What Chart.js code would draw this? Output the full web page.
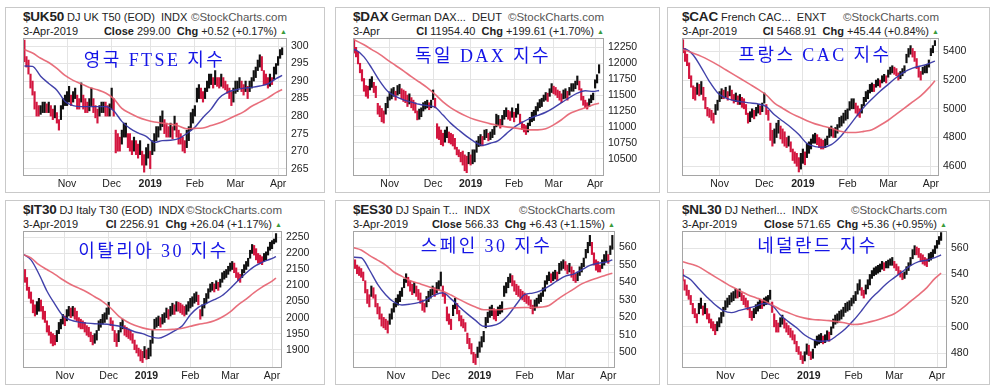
<!DOCTYPE html>
<html>
<head>
<meta charset="utf-8">
<script src="https://cdn.jsdelivr.net/npm/chart.js@4.4.1/dist/chart.umd.min.js"></script>
<style>
  body { margin: 0; width: 995px; height: 392px; position: relative; overflow: hidden; background: #fff;
         font-family: "Liberation Sans", Arial, sans-serif; color: #222; }
  .box { position: absolute; border: 1px solid #c9c9c9; box-sizing: border-box; }
  .head { position: absolute; white-space: nowrap; }
  .l1 { display: flex; justify-content: space-between; align-items: baseline; height: 17px; line-height: 17px; font-size: 11px; }
  .l2 { display: flex; justify-content: space-between; height: 13px; line-height: 13px; font-size: 11px; }
  .sym { font-size: 13.5px; font-weight: bold; letter-spacing: -0.2px; }
  .sc { color: #555; font-size: 11.5px; }
  .tri { color: #3a9a3a; font-size: 7px; vertical-align: 1px; }
  .kt { position: absolute; transform: translate(-50%, -50%); white-space: nowrap; color: #1515e6;
        font: 18px "Liberation Serif", "Noto Sans CJK KR", serif; letter-spacing: 2.4px; }
  canvas { position: absolute; }
</style>
</head>
<body>
<script>
// trading-day index: 0 = 3-Oct-2018 ... 127 = 3-Apr-2019
const monthDays = [21, 43, 62, 84, 104, 125];
const monthLabels = ['Nov', 'Dec', '2019', 'Feb', 'Mar', 'Apr'];
const maDays = [0,4,8,12,16,20,24,28,32,36,40,44,48,52,56,60,64,68,72,76,80,84,88,92,96,100,104,108,112,116,120,124,127];

// $UK50
const ukHigh = [301.7,297,296,292,290,287,284,283,283,284, 284,283.5,284,283,282,283,281,279,283,285,
  286,287,288.5,286,287,288,286,285,289.5,286, 285,284,285,288,285,283,282,283,284,284,
  284,283,283.5,288,285,276,275,274,276,278, 278,275,275,273,274,273,272,273,270,269,
  271,272,270,273,275,277,277,280,281.5,279, 278,277,278,277,280,278,276,275,274,273,
  276,277,281,282,283,288,289,288,287,288, 290,292,292,291,293,291,291,292,291,290,
  289,288,287,288,290,290,291,290,289,290, 288.5,290,291,293,294,296,297.5,297,293,292,
  291,292,291,294,295,297,299,299.5];
const ukLow = [295.5,294,292,288,286,282,280,280,280.5,281, 281,281,281,280,279,279.5,278,276,279,282,
  283,283,284,283,284,285,282,282,284,282, 281,281,281.5,283,281,279.5,278,280,281,281,
  280,280,280,282,280,269.5,270,270,272,274, 274,271,270,269,270,269,268,269,266,264,
  266,268,265,269,270,273,274,276,277,275, 274,274,274,273.5,276,274,272,272,270,269.5,
  271,273,276,278,280,284,285,285,284,285, 287,288,289,288,289,288.5,288,288.5,288,287.5,
  286.5,285,283,284,286.5,287,288,287,286,287, 285,287,288,290,291,293,294,293,289,289,
  288,288.5,289,290.5,292,294.5,296.5,297.5];
const ukFast = [294.3,294.2,291.4,289.3,287.4,284.2,283,282.7,282.7,282.7,282.7,281.5,278.5,276.5,275.2,274.2,
  272.5,273,273.1,273.6,275,276.8,279.6,282,285.2,286.8,287.5,288,288.2,288.6,289.2,290.7,291.6];
const ukSlow = [299,298,296.5,295.3,293.6,291.6,290.2,289.2,288.2,287.5,286.6,285,282.2,280.8,279.7,278.9,
  278.3,278,277.7,277.2,276.4,276.5,276.6,277.3,278,279,280.1,281.2,282.8,284,285.2,286.7,287.6];
const ukTicks = [265, 270, 275, 280, 285, 290, 295, 300];

// $DAX (starts at day 3)
const daxHigh = [12370,12250,12180,12000,11900,11760,11650,11640,11750,11790,
  11700,11640,11370,11330,11290,11250,11370,11470,11550,11600,
  11620,11560,11650,11670,11600,11580,11560,11500,11520,11460,
  11420,11380,11250,11280,11300,11380,11400,11420,11380,11420,
  11580,11450,11050,11000,10950,10900,10950,11000,10920,10900,
  10880,10820,10680,10640,10600,10620,10560,10540,10600,10560,
  10640,10640,10780,10850,10880,10850,10950,10960,10900,10920,
  10960,11010,11200,11180,11120,11180,11260,11300,11260,11240,
  11300,11230,11290,11360,11200,11080,11040,11020,11060,11150,
  11230,11260,11320,11380,11430,11450,11500,11540,11530,11600,
  11680,11640,11620,11580,11560,11520,11580,11600,11560,11620,
  11680,11680,11720,11800,11720,11600,11480,11420,11380,11440,
  11500,11530,11740,11820,11977];
const daxLow = [12160,12100,11990,11850,11720,11560,11480,11450,11580,11620,
  11540,11460,11200,11160,11080,11060,11200,11300,11420,11440,
  11480,11420,11500,11520,11440,11400,11380,11320,11360,11300,
  11260,11220,11110,11120,11160,11250,11280,11300,11270,11300,
  11430,11300,10820,10800,10720,10700,10760,10830,10750,10730,
  10700,10650,10560,10530,10450,10400,10310,10280,10420,10400,
  10420,10450,10600,10690,10700,10700,10800,10830,10780,10800,
  10830,10880,11000,11020,10980,11030,11120,11160,11120,11100,
  11150,11080,11150,11200,11050,10960,10920,10880,10920,11020,
  11080,11100,11180,11250,11300,11320,11400,11420,11400,11480,
  11540,11520,11500,11460,11420,11380,11440,11450,11420,11500,
  11560,11560,11600,11660,11580,11420,11340,11300,11280,11320,
  11380,11425,11610,11690,11845];
const daxFast = [12230,12205,12100,11920,11720,11560,11480,11425,11390,11355,11335,11310,11185,11055,10950,10850,
  10765,10710,10743,10785,10890,10995,11070,11135,11180,11230,11300,11380,11460,11530,11568,11555,11572];
const daxSlow = [12400,12355,12290,12215,12140,12050,11965,11880,11790,11705,11617,11510,11393,11300,11227,11165,
  11116,11080,11047,11022,11000,10985,10966,10953,10953,10970,11032,11112,11206,11257,11300,11348,11373];
const daxTicks = [10500, 10750, 11000, 11250, 11500, 11750, 12000, 12250];

// $CAC (starts at day 3)
const cacHigh = [5481,5420,5380,5320,5230,5160,5150,5180,5170,5190,
  5150,5080,5010,5000,4990,4970,5030,5060,5120,5140,
  5130,5150,5120,5160,5130,5100,5110,5090,5100,5080,
  5070,5030,4970,4980,5000,4990,5010,5030,5020,5040,
  5110,5030,4990,4900,4850,4860,4900,4920,4880,4860,
  4840,4800,4810,4770,4720,4700,4690,4660,4690,4720,
  4700,4760,4770,4790,4820,4830,4820,4800,4790,4780,
  4790,4810,4870,4880,4860,4870,4890,4940,4950,4970,
  4990,5000,5050,5070,5070,5040,5020,5000,5030,5080,
  5120,5130,5170,5180,5170,5200,5210,5200,5230,5240,
  5230,5270,5290,5300,5290,5280,5250,5260,5280,5300,
  5380,5420,5440,5420,5400,5350,5290,5260,5290,5300,
  5310,5340,5420,5440,5475];
const cacLow = [5390,5330,5300,5210,5150,5070,5060,5100,5090,5100,
  5060,5000,4950,4940,4920,4900,4960,4990,5050,5070,
  5070,5080,5060,5090,5060,5040,5050,5030,5030,5010,
  5000,4960,4900,4910,4940,4930,4950,4970,4960,4980,
  5040,4960,4920,4780,4740,4760,4800,4830,4790,4760,
  4740,4730,4740,4700,4640,4620,4600,4560,4580,4620,
  4610,4660,4690,4720,4760,4760,4750,4730,4720,4720,
  4730,4750,4800,4810,4800,4800,4830,4870,4880,4900,
  4920,4930,4990,5000,5000,4970,4950,4940,4970,5020,
  5050,5070,5110,5120,5120,5150,5160,5150,5180,5190,
  5180,5220,5240,5250,5240,5230,5200,5210,5230,5250,
  5320,5360,5380,5360,5330,5280,5220,5200,5240,5250,
  5250,5290,5370,5390,5440];
const cacFast = [5420,5416,5375,5287,5190,5112,5076,5058,5048,5041,5034,5015,4958,4915,4872,4821,
  4758,4737,4733,4750,4798,4866,4940,5010,5068,5122,5170,5218,5257,5283,5298,5315,5332];
const cacSlow = [5420,5408,5387,5365,5337,5306,5272,5238,5204,5170,5135,5096,5040,5004,4970,4943,
  4917,4895,4879,4865,4846,4835,4835,4843,4854,4885,4920,4963,5005,5048,5090,5146,5195];
const cacTicks = [4600, 4800, 5000, 5200, 5400];

// $IT30
const itHigh = [2175,2150,2125,2095,2080,2055,2040,2050,2060,2055, 2035,2020,1990,1975,1955,1950,1945,1960,1985,1995,
  2010,2005,2025,2035,2030,2035,2030,2020,2000,1995, 1990,1985,1975,1970,1955,1945,1950,1960,1990,1995,
  2010,2015,2030,2048,2000,1990,1960,1950,1960,1985, 1995,1975,1970,1965,1960,1950,1930,1915,1905,1900,
  1895,1910,1900,1905,1930,1960,1995,2000,2005,2000, 2010,2015,2030,2025,2035,2045,2040,2050,2048,2045,
  2040,2035,2040,2050,2060,2065,2075,2080,2070,2025, 2040,2060,2075,2090,2105,2110,2105,2115,2110,2120,
  2140,2145,2150,2160,2170,2175,2170,2155,2140,2135, 2150,2165,2175,2185,2210,2228,2225,2215,2200,2195,
  2190,2200,2205,2220,2235,2240,2245,2262];
const itLow = [2135,2110,2085,2060,2045,2015,2005,2010,2020,2020, 1995,1985,1955,1945,1920,1912,1915,1925,1950,1965,
  1980,1975,1990,2005,2000,2005,1995,1990,1970,1965, 1965,1955,1945,1940,1925,1915,1920,1930,1960,1970,
  1980,1985,1995,2010,1975,1960,1925,1910,1925,1955, 1965,1945,1940,1935,1930,1920,1900,1890,1880,1865,
  1860,1875,1870,1872,1880,1920,1965,1970,1975,1970, 1980,1985,2000,1995,2005,2010,2010,2020,2020,2015,
  2010,2005,2010,2020,2030,2035,2045,2050,2040,1995, 2005,2030,2045,2060,2080,2085,2080,2090,2085,2095,
  2110,2120,2125,2135,2145,2150,2140,2125,2115,2110, 2125,2140,2150,2160,2185,2200,2195,2180,2170,2170,
  2165,2175,2180,2195,2210,2215,2230,2235];
const itFast = [2198,2180,2136,2083,2042,2006,1992,1986,1983,1981,1980,1978,1974,1966,1956,1950,
  1941,1936,1945,1959,1975,2009,2032,2044,2056,2069,2091,2116,2139,2159,2172,2182,2190];
const itSlow = [2197,2186,2165,2150,2135,2118,2103,2092,2080,2065,2050,2030,2005,1988,1976,1968,
  1963,1962,1962,1964,1967,1973,1979,1983,1990,2002,2018,2040,2058,2078,2095,2110,2123];
const itTicks = [1900, 1950, 2000, 2050, 2100, 2150, 2200, 2250];

// $ES30
const esHigh = [555,553,550,549,548,546,541,536,533,538, 537,533,528,526,522,520,519,518,522,525,
  528,531,533,535,537,542,545,543,541,539, 540,538,536,534,530,528,532,535,536,538,
  537,540,541,546,538,534,526,522,519,527, 531,528,524,521,519,517,511,508,505,500,
  499,503,506,509,512,520,523,526,527,525, 524,526,527,529,538,540,543,545,544,541,
  539,538,536,535,534,533,532,530,527,530, 531,533,534,537,541,544,546,545,546,547,
  546,551,552,553,552,550,551,549,547,545, 546,549,551,554,559,563,567,563,557,553,
  552,550,553,556,558,556,561,567];
const esLow = [549,548,545,544,543,541,534,528,526,532, 531,526,522,519,515,514,513,511,516,519,
  523,526,527,529,532,537,540,538,535,533, 534,532,530,528,524,523,526,529,531,533,
  532,534,536,538,532,528,518,516,513,521, 525,522,518,515,514,512,505,502,499,494,
  493,497,500,503,506,514,517,520,521,519, 518,521,522,523,532,534,537,540,538,535,
  533,532,531,530,529,528,527,525,522,524, 526,528,529,532,535,539,541,540,541,542,
  541,545,547,548,547,545,546,543,541,540, 541,544,546,549,554,557,561,556,550,547,
  546,546,548,550,552,551,556,559];
const esFast = [554.5,554.2,547.3,539.1,533,528.8,527.1,527.6,528.5,530.2,532.8,534.1,530.6,526.1,522,518.3,
  514.9,515.2,516.9,521.2,527.5,533.1,533.9,535.3,537.9,541,543.7,544.8,547.2,549.8,551,551.7,553];
const esSlow = [560,558.6,555.5,552.8,550,546,543.5,541,539.5,538,536.3,535,532.8,530.3,528,526,
  524.4,524.4,524.4,525.1,525.5,525.7,525.7,525.9,526.8,530.2,533.3,536.2,539.2,541.2,542.7,544.3,545.3];
const esTicks = [500, 510, 520, 530, 540, 550, 560];

// $NL30
const nlHigh = [544,536,532,528,524,518,514,510,518,522, 516,518,514,510,506,504,502,504,507,511,
  515,520,522,524,526,527,529,528,529,526, 524,522,520,515,512,514,517,519,521,520,
  522,523,524,528,519,510,505,503,507,509, 506,503,501,499,497,494,489,485,481,478,
  481,487,486,481,483,490,493,494,495,493, 494,497,496,500,506,509,510,512,513,515,
  518,519,520,522,524,527,533,536,530,528, 532,536,540,543,545,546,547,548,550,549,
  550,551,552,553,550,548,546,543,541,542, 546,549,553,559,562,561,560,556,555,553,
  552,556,557,559,562,566,569,572];
const nlLow = [535,528,524,521,517,510,507,503,510,514, 509,510,506,503,499,497,494,497,500,503,
  508,513,515,517,519,520,522,522,523,520, 517,515,513,507,505,507,510,512,514,514,
  516,517,518,521,511,500,496,496,500,502, 499,496,494,492,490,487,481,479,475,472,
  474,479,478,475,476,484,486,487,488,487, 488,490,489,494,499,502,503,505,506,508,
  511,512,513,516,518,520,525,528,524,522, 525,529,532,537,539,540,541,542,544,543,
  545,545,547,547,545,543,540,538,536,537, 540,543,547,552,555,555,553,550,548,547,
  546,550,551,553,556,560,563,566];
const nlFast = [539.7,536,529.1,522.7,516.9,512.4,510.9,512.6,514.2,515.9,517.9,516.4,509.1,504,499.3,493.8,
  490.3,489,489.6,493.6,498.6,505,512.5,520.5,526.7,532.8,537.6,542.2,546.8,549.8,550.9,552.8,554.9];
const nlSlow = [549.8,548,545.8,542,538.2,534.5,530.8,527.6,524.6,522.3,520,516.8,513.3,510.8,508.3,506.7,
  505.6,505.2,504.8,504,502.9,501.8,502.3,503.8,505.4,507.5,510,514.3,519.5,524.5,530,537,541];
const nlTicks = [480, 500, 520, 540, 560];

const panels = [
  { box: [5, 7, 320, 186], plot: [23, 38, 287, 176], xr: [-0.7, 129.4], yr: [262.9, 302.3], start: 0,
    high: ukHigh, low: ukLow, fast: ukFast, slow: ukSlow, ticks: ukTicks,
    sym: '$UK50', name: 'DJ UK T50 (EOD)', exch: 'INDX', date: '3-Apr-2019', cl: 'Close', close: '299.00', chg: '+0.52 (+0.17%)',
    title: '영국 FTSE 지수', tpos: [154.5, 57.5] },
  { box: [335, 7, 325, 186], plot: [353, 38, 604, 176], xr: [2.45, 129.5], yr: [10228, 12397], start: 3,
    high: daxHigh, low: daxLow, fast: daxFast, slow: daxSlow, ticks: daxTicks,
    sym: '$DAX', name: 'German DAX...', exch: 'DEUT', date: '3-Apr', cl: 'Cl', close: '11954.40', chg: '+199.61 (+1.70%)',
    title: '독일 DAX 지수', tpos: [483, 53.5] },
  { box: [667, 7, 323, 186], plot: [682, 38, 939, 176], xr: [2.5, 129], yr: [4532, 5493], start: 3,
    high: cacHigh, low: cacLow, fast: cacFast, slow: cacSlow, ticks: cacTicks,
    sym: '$CAC', name: 'French CAC...', exch: 'ENXT', date: '3-Apr-2019', cl: 'Cl', close: '5468.91', chg: '+45.44 (+0.84%)',
    title: '프랑스 CAC 지수', tpos: [815, 52.5] },
  { box: [5, 200, 320, 185], plot: [23, 231, 282, 368], xr: [0, 130], yr: [1843, 2270], start: 0,
    high: itHigh, low: itLow, fast: itFast, slow: itSlow, ticks: itTicks,
    sym: '$IT30', name: 'DJ Italy T30 (EOD)', exch: 'INDX', date: '3-Apr-2019', cl: 'Cl', close: '2256.91', chg: '+26.04 (+1.17%)',
    title: '이탈리아 30 지수', tpos: [153.5, 248.5] },
  { box: [335, 200, 325, 185], plot: [353, 231, 615, 368], xr: [0, 128.3], yr: [491, 569.5], start: 0,
    high: esHigh, low: esLow, fast: esFast, slow: esSlow, ticks: esTicks,
    sym: '$ES30', name: 'DJ Spain T...', exch: 'INDX', date: '3-Apr-2019', cl: 'Close', close: '566.33', chg: '+6.43 (+1.15%)',
    title: '스페인 30 지수', tpos: [486.5, 243.5] },
  { box: [667, 200, 323, 185], plot: [682, 231, 947, 368], xr: [-0.3, 129.9], yr: [468.6, 573.2], start: 0,
    high: nlHigh, low: nlLow, fast: nlFast, slow: nlSlow, ticks: nlTicks,
    sym: '$NL30', name: 'DJ Netherl...', exch: 'INDX', date: '3-Apr-2019', cl: 'Close', close: '571.65', chg: '+5.36 (+0.95%)',
    title: '네덜란드 지수', tpos: [817.5, 243.5] }
];

const upColor = '#111111';
const downColor = '#d3163f';
const fastColor = 'rgba(55, 55, 165, 0.95)';
const slowColor = 'rgba(230, 95, 110, 0.9)';
const gridColor = '#e4e4e4';

const frame = {
  id: 'frame',
  afterDatasetsDraw(chart) {
    const a = chart.chartArea, c = chart.ctx;
    c.save();
    c.strokeStyle = '#a5a5a5';
    c.lineWidth = 1;
    c.strokeRect(Math.round(a.left) + 0.5, Math.round(a.top) + 0.5, Math.round(a.right - a.left) - 1, Math.round(a.bottom - a.top) - 1);
    c.restore();
  }
};

function drawPanel(p) {
  const [bx, by, bw, bh] = p.box;
  const box = document.createElement('div');
  box.className = 'box';
  box.style.cssText = `left:${bx}px;top:${by}px;width:${bw}px;height:${bh}px`;
  document.body.appendChild(box);

  const [L, T, R, B] = p.plot;
  const head = document.createElement('div');
  head.className = 'head';
  head.style.cssText = `left:${L}px;top:${T - 30}px;width:${R - L}px`;
  head.innerHTML =
    `<div class="l1"><span><span class="sym">${p.sym}</span> ${p.name}&nbsp;&nbsp;${p.exch}</span><span class="sc">&copy;StockCharts.com</span></div>` +
    `<div class="l2"><span>${p.date}</span><span><b>${p.cl}</b> ${p.close}&nbsp; <b>Chg</b> ${p.chg} <span class="tri">&#9650;</span></span></div>`;
  document.body.appendChild(head);

  const padL = 2, padT = 2, axisW = 40, axisH = 16;
  const w = R - L + padL + axisW, h = B - T + padT + axisH;
  const cv = document.createElement('canvas');
  cv.width = w; cv.height = h;
  cv.style.cssText = `left:${L - padL}px;top:${T - padT}px;width:${w}px;height:${h}px`;
  document.body.appendChild(cv);

  const bars = p.high.map((hi, i) => ({ x: p.start + i, y: [p.low[i], hi] }));
  const colors = p.high.map((hi, i) => {
    if (i === 0) return downColor;
    const mid = hi + p.low[i], prev = p.high[i - 1] + p.low[i - 1];
    return mid >= prev ? upColor : downColor;
  });
  const line = (arr) => arr.map((v, i) => ({ x: maDays[i], y: v }));

  new Chart(cv, {
    type: 'bar',
    data: {
      datasets: [
        { type: 'line', data: line(p.slow), borderColor: slowColor, borderWidth: 1.6, pointRadius: 0,
          cubicInterpolationMode: 'monotone', order: 0 },
        { type: 'line', data: line(p.fast), borderColor: fastColor, borderWidth: 1.4, pointRadius: 0,
          cubicInterpolationMode: 'monotone', order: 0 },
        { type: 'bar', data: bars, backgroundColor: colors, barThickness: 1.5, borderWidth: 0, order: 1 }
      ]
    },
    options: {
      responsive: false,
      animation: false,
      layout: { padding: { left: padL, top: padT, right: 0, bottom: 0 } },
      plugins: { legend: { display: false }, tooltip: { enabled: false } },
      scales: {
        x: {
          type: 'linear', min: p.xr[0], max: p.xr[1], offset: false,
          afterBuildTicks: s => { s.ticks = monthDays.map(v => ({ value: v })); },
          afterFit: s => { s.height = axisH; s.paddingLeft = 0; s.paddingRight = 0; },
          ticks: {
            autoSkip: false, maxRotation: 0, padding: 2, color: '#222',
            font: c => ({ family: '"Liberation Sans", Arial', size: 10.5,
                          weight: (c.tick && c.tick.value === monthDays[2]) ? 'bold' : 'normal' }),
            callback: (v, i) => monthLabels[i]
          },
          grid: { color: gridColor, drawTicks: false, offset: false },
          border: { display: false }
        },
        y: {
          position: 'right', min: p.yr[0], max: p.yr[1],
          afterBuildTicks: s => { s.ticks = p.ticks.map(v => ({ value: v })); },
          afterFit: s => { s.width = axisW; s.paddingTop = 0; s.paddingBottom = 0; },
          ticks: { padding: 4, color: '#222', font: { family: '"Liberation Sans", Arial', size: 10.5 },
                   callback: v => String(v) },
          grid: { color: gridColor, drawTicks: false },
          border: { display: false }
        }
      }
    },
    plugins: [frame]
  });

  const kt = document.createElement('div');
  kt.className = 'kt';
  kt.textContent = p.title;
  kt.style.left = p.tpos[0] + 'px';
  kt.style.top = p.tpos[1] + 'px';
  document.body.appendChild(kt);
}

panels.forEach(drawPanel);
</script>
</body>
</html>
